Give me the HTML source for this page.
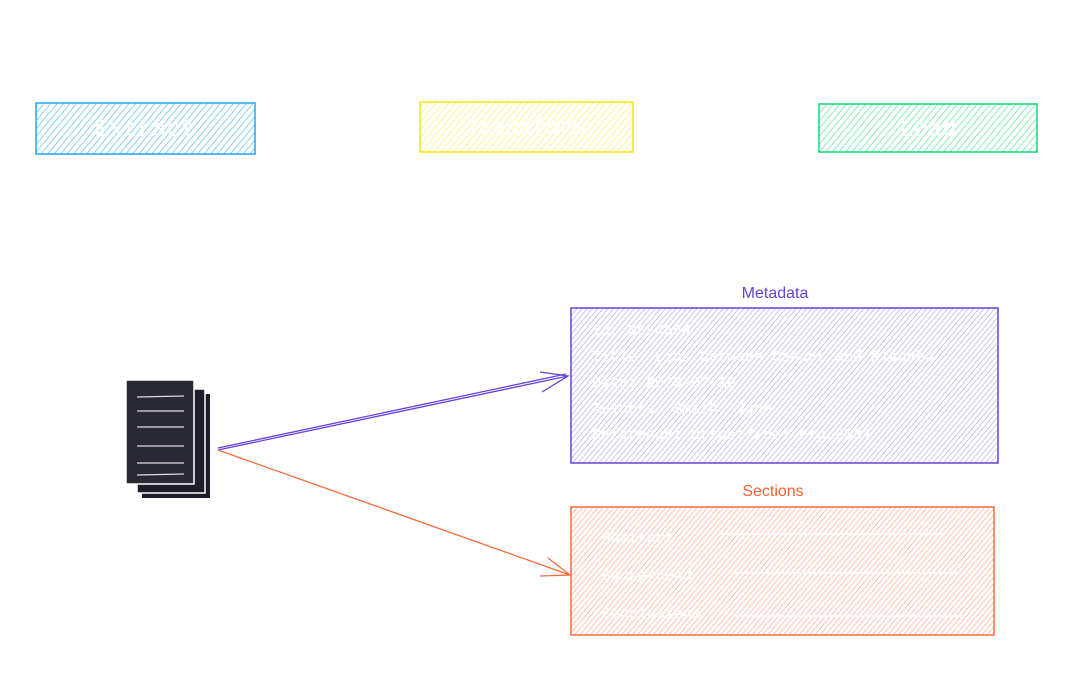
<!DOCTYPE html>
<html><head><style>html,body{margin:0;padding:0;background:#fff}svg{display:block}</style></head><body>
<svg width="1084" height="678" xmlns="http://www.w3.org/2000/svg" font-family="Liberation Mono, monospace">
<defs>
<pattern id="pb" width="5" height="5" patternUnits="userSpaceOnUse" patternTransform="rotate(40)"><line x1="0" y1="0" x2="0" y2="5" stroke="#4cb8f0" stroke-width="1.3"/></pattern>
<pattern id="py" width="5" height="5" patternUnits="userSpaceOnUse" patternTransform="rotate(40)"><line x1="0" y1="0" x2="0" y2="5" stroke="#f7ef6a" stroke-width="1.3"/></pattern>
<pattern id="pg" width="5" height="5" patternUnits="userSpaceOnUse" patternTransform="rotate(40)"><line x1="0" y1="0" x2="0" y2="5" stroke="#4fe09a" stroke-width="1.3"/></pattern>
<pattern id="pp" width="4" height="4" patternUnits="userSpaceOnUse" patternTransform="rotate(40)"><line x1="0" y1="0" x2="0" y2="4" stroke="#a595e6" stroke-width="1.1"/></pattern>
<pattern id="po" width="4" height="4" patternUnits="userSpaceOnUse" patternTransform="rotate(40)"><line x1="0" y1="0" x2="0" y2="4" stroke="#fd9c7e" stroke-width="1.2"/></pattern>
</defs>
<rect x="36" y="103" width="219" height="51" fill="url(#pb)" stroke="#1ea7fd" stroke-width="1.5"/>
<text x="145" y="136" text-anchor="middle" font-size="24" fill="#fff">Extract</text>
<rect x="420" y="102" width="213" height="50" fill="url(#py)" stroke="#f5e60f" stroke-width="1.5"/>
<text x="526" y="134" text-anchor="middle" font-size="22" fill="#fff">Transform</text>
<rect x="819" y="104" width="218" height="48" fill="url(#pg)" stroke="#12d67a" stroke-width="1.5"/>
<text x="928" y="136" text-anchor="middle" font-size="24" fill="#fff">Load</text>

<text x="775" y="298" text-anchor="middle" font-size="16" fill="#6741d9" font-family="Liberation Sans, sans-serif">Metadata</text>
<rect x="571" y="308" width="427" height="155" fill="url(#pp)" stroke="#6741d9" stroke-width="1.5"/>
<g fill="#fff" font-size="15">
<text x="592" y="335">Id: 8584564</text>
<text x="592" y="361">Title: Link between Cancer and Placebo</text>
<text x="592" y="387">Date: 2023-07-10</text>
<text x="592" y="413">Authors: Smith, John</text>
<text x="592" y="439">Reference: https://doi.org/8584</text>
</g>
<text x="773" y="496" text-anchor="middle" font-size="16" fill="#fa5f2c" font-family="Liberation Sans, sans-serif">Sections</text>
<rect x="571" y="507" width="423" height="128" fill="url(#po)" stroke="#fa6a3c" stroke-width="1.5"/>
<g fill="#fff" font-size="15" stroke="#fff">
<text x="602" y="542" stroke="none">Abstract</text><line x1="718" y1="534" x2="944" y2="534" stroke-width="1.5"/>
<text x="602" y="580" stroke="none">Background</text><line x1="733" y1="573" x2="960" y2="573" stroke-width="1.5"/>
<text x="602" y="618" stroke="none">Conclusions</text><line x1="733" y1="616" x2="962" y2="616" stroke-width="1.5"/>
</g>

<g>
<rect x="142" y="394" width="68" height="104" fill="#1e1e2a"/>
<rect x="137" y="389" width="68" height="104" fill="#1e1e2a" stroke="#fff" stroke-width="1.5"/>
<rect x="126" y="380" width="68" height="104" fill="#2a2a36" stroke="#fff" stroke-width="1.5"/>
<g stroke="#ddd" stroke-width="1.2"><line x1="137" y1="397" x2="184" y2="396"/><line x1="137" y1="411" x2="184" y2="411"/><line x1="137" y1="427" x2="184" y2="427"/><line x1="137" y1="446" x2="184" y2="446"/><line x1="137" y1="463" x2="184" y2="463"/><line x1="137" y1="475" x2="184" y2="474"/></g>
</g>
<g fill="none" stroke-width="1.3">
<path d="M218 450 L568 376 M218 448 L566 374 M540 372 L568 376 L542 392" stroke="#6741d9"/>
<path d="M218 450 L570 575 M540 576 L570 575 L548 558" stroke="#fa6a3c"/>
</g>
</svg>
</body></html>
